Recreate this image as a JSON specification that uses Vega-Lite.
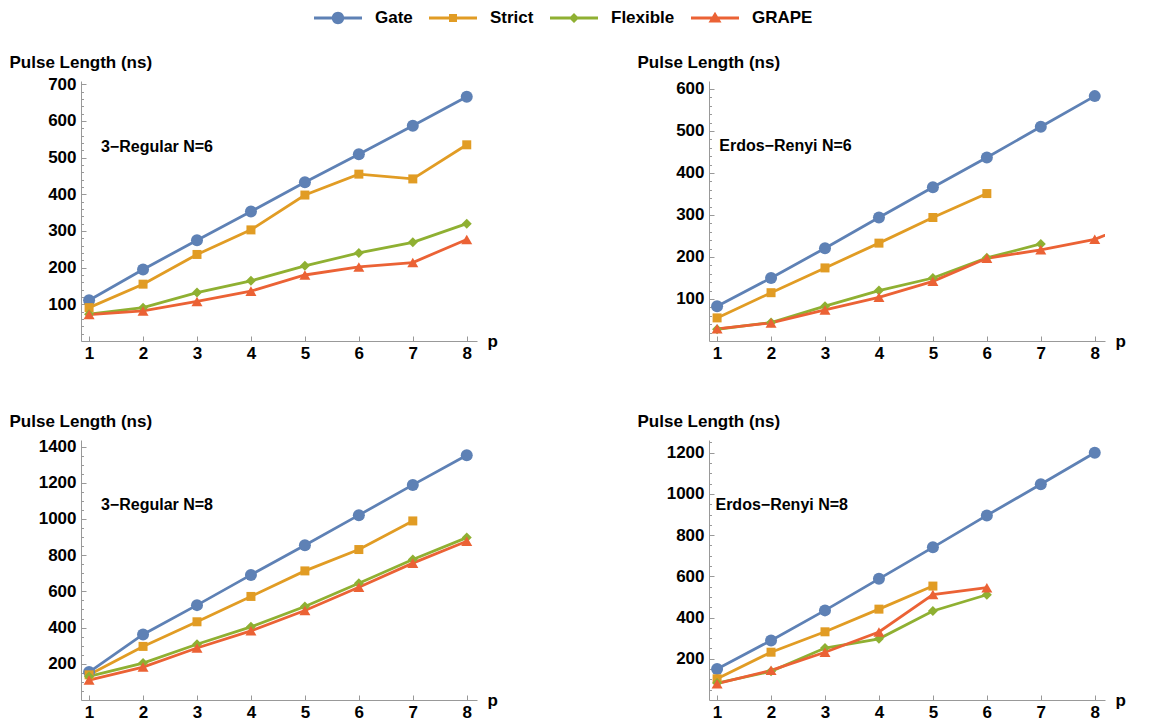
{
  "$schema": "https://vega.github.io/schema/vega-lite/v6.json",
  "padding": {"left": 9, "top": 8, "right": 5, "bottom": 3},
  "background": "white",
  "datasets": {
    "curves": [
      {"panel": "A", "series": "Gate", "p": 1, "value": 111},
      {"panel": "A", "series": "Gate", "p": 2, "value": 195},
      {"panel": "A", "series": "Gate", "p": 3, "value": 275},
      {"panel": "A", "series": "Gate", "p": 4, "value": 353},
      {"panel": "A", "series": "Gate", "p": 5, "value": 433},
      {"panel": "A", "series": "Gate", "p": 6, "value": 509},
      {"panel": "A", "series": "Gate", "p": 7, "value": 587},
      {"panel": "A", "series": "Gate", "p": 8, "value": 666},
      {"panel": "A", "series": "Strict", "p": 1, "value": 91},
      {"panel": "A", "series": "Strict", "p": 2, "value": 155},
      {"panel": "A", "series": "Strict", "p": 3, "value": 236},
      {"panel": "A", "series": "Strict", "p": 4, "value": 303},
      {"panel": "A", "series": "Strict", "p": 5, "value": 398},
      {"panel": "A", "series": "Strict", "p": 6, "value": 455},
      {"panel": "A", "series": "Strict", "p": 7, "value": 442},
      {"panel": "A", "series": "Strict", "p": 8, "value": 535},
      {"panel": "A", "series": "Flexible", "p": 1, "value": 73},
      {"panel": "A", "series": "Flexible", "p": 2, "value": 91},
      {"panel": "A", "series": "Flexible", "p": 3, "value": 132},
      {"panel": "A", "series": "Flexible", "p": 4, "value": 164},
      {"panel": "A", "series": "Flexible", "p": 5, "value": 205},
      {"panel": "A", "series": "Flexible", "p": 6, "value": 240},
      {"panel": "A", "series": "Flexible", "p": 7, "value": 269},
      {"panel": "A", "series": "Flexible", "p": 8, "value": 320},
      {"panel": "A", "series": "GRAPE", "p": 1, "value": 72},
      {"panel": "A", "series": "GRAPE", "p": 2, "value": 82},
      {"panel": "A", "series": "GRAPE", "p": 3, "value": 108},
      {"panel": "A", "series": "GRAPE", "p": 4, "value": 136},
      {"panel": "A", "series": "GRAPE", "p": 5, "value": 180},
      {"panel": "A", "series": "GRAPE", "p": 6, "value": 202},
      {"panel": "A", "series": "GRAPE", "p": 7, "value": 214},
      {"panel": "A", "series": "GRAPE", "p": 8, "value": 277},

      {"panel": "B", "series": "Gate", "p": 1, "value": 83},
      {"panel": "B", "series": "Gate", "p": 2, "value": 150},
      {"panel": "B", "series": "Gate", "p": 3, "value": 221},
      {"panel": "B", "series": "Gate", "p": 4, "value": 294},
      {"panel": "B", "series": "Gate", "p": 5, "value": 366},
      {"panel": "B", "series": "Gate", "p": 6, "value": 437},
      {"panel": "B", "series": "Gate", "p": 7, "value": 510},
      {"panel": "B", "series": "Gate", "p": 8, "value": 583},
      {"panel": "B", "series": "Strict", "p": 1, "value": 55},
      {"panel": "B", "series": "Strict", "p": 2, "value": 115},
      {"panel": "B", "series": "Strict", "p": 3, "value": 174},
      {"panel": "B", "series": "Strict", "p": 4, "value": 233},
      {"panel": "B", "series": "Strict", "p": 5, "value": 294},
      {"panel": "B", "series": "Strict", "p": 6, "value": 351},
      {"panel": "B", "series": "Flexible", "p": 1, "value": 28},
      {"panel": "B", "series": "Flexible", "p": 2, "value": 44},
      {"panel": "B", "series": "Flexible", "p": 3, "value": 83},
      {"panel": "B", "series": "Flexible", "p": 4, "value": 120},
      {"panel": "B", "series": "Flexible", "p": 5, "value": 150},
      {"panel": "B", "series": "Flexible", "p": 6, "value": 198},
      {"panel": "B", "series": "Flexible", "p": 7, "value": 231},
      {"panel": "B", "series": "GRAPE", "p": 1, "value": 29},
      {"panel": "B", "series": "GRAPE", "p": 2, "value": 43},
      {"panel": "B", "series": "GRAPE", "p": 3, "value": 74},
      {"panel": "B", "series": "GRAPE", "p": 4, "value": 104},
      {"panel": "B", "series": "GRAPE", "p": 5, "value": 142},
      {"panel": "B", "series": "GRAPE", "p": 6, "value": 197},
      {"panel": "B", "series": "GRAPE", "p": 7, "value": 217},
      {"panel": "B", "series": "GRAPE", "p": 8, "value": 242},
      {"panel": "B", "series": "GRAPE", "p": 9, "value": 292},

      {"panel": "C", "series": "Gate", "p": 1, "value": 154},
      {"panel": "C", "series": "Gate", "p": 2, "value": 362},
      {"panel": "C", "series": "Gate", "p": 3, "value": 524},
      {"panel": "C", "series": "Gate", "p": 4, "value": 691},
      {"panel": "C", "series": "Gate", "p": 5, "value": 855},
      {"panel": "C", "series": "Gate", "p": 6, "value": 1021},
      {"panel": "C", "series": "Gate", "p": 7, "value": 1188},
      {"panel": "C", "series": "Gate", "p": 8, "value": 1352},
      {"panel": "C", "series": "Strict", "p": 1, "value": 139},
      {"panel": "C", "series": "Strict", "p": 2, "value": 296},
      {"panel": "C", "series": "Strict", "p": 3, "value": 432},
      {"panel": "C", "series": "Strict", "p": 4, "value": 572},
      {"panel": "C", "series": "Strict", "p": 5, "value": 713},
      {"panel": "C", "series": "Strict", "p": 6, "value": 831},
      {"panel": "C", "series": "Strict", "p": 7, "value": 989},
      {"panel": "C", "series": "Flexible", "p": 1, "value": 130},
      {"panel": "C", "series": "Flexible", "p": 2, "value": 204},
      {"panel": "C", "series": "Flexible", "p": 3, "value": 308},
      {"panel": "C", "series": "Flexible", "p": 4, "value": 404},
      {"panel": "C", "series": "Flexible", "p": 5, "value": 516},
      {"panel": "C", "series": "Flexible", "p": 6, "value": 645},
      {"panel": "C", "series": "Flexible", "p": 7, "value": 776},
      {"panel": "C", "series": "Flexible", "p": 8, "value": 897},
      {"panel": "C", "series": "GRAPE", "p": 1, "value": 110},
      {"panel": "C", "series": "GRAPE", "p": 2, "value": 182},
      {"panel": "C", "series": "GRAPE", "p": 3, "value": 287},
      {"panel": "C", "series": "GRAPE", "p": 4, "value": 382},
      {"panel": "C", "series": "GRAPE", "p": 5, "value": 494},
      {"panel": "C", "series": "GRAPE", "p": 6, "value": 623},
      {"panel": "C", "series": "GRAPE", "p": 7, "value": 756},
      {"panel": "C", "series": "GRAPE", "p": 8, "value": 877},

      {"panel": "D", "series": "Gate", "p": 1, "value": 151},
      {"panel": "D", "series": "Gate", "p": 2, "value": 289},
      {"panel": "D", "series": "Gate", "p": 3, "value": 435},
      {"panel": "D", "series": "Gate", "p": 4, "value": 588},
      {"panel": "D", "series": "Gate", "p": 5, "value": 741},
      {"panel": "D", "series": "Gate", "p": 6, "value": 896},
      {"panel": "D", "series": "Gate", "p": 7, "value": 1047},
      {"panel": "D", "series": "Gate", "p": 8, "value": 1200},
      {"panel": "D", "series": "Strict", "p": 1, "value": 103},
      {"panel": "D", "series": "Strict", "p": 2, "value": 232},
      {"panel": "D", "series": "Strict", "p": 3, "value": 331},
      {"panel": "D", "series": "Strict", "p": 4, "value": 441},
      {"panel": "D", "series": "Strict", "p": 5, "value": 553},
      {"panel": "D", "series": "Flexible", "p": 1, "value": 82},
      {"panel": "D", "series": "Flexible", "p": 2, "value": 139},
      {"panel": "D", "series": "Flexible", "p": 3, "value": 252},
      {"panel": "D", "series": "Flexible", "p": 4, "value": 297},
      {"panel": "D", "series": "Flexible", "p": 5, "value": 432},
      {"panel": "D", "series": "Flexible", "p": 6, "value": 511},
      {"panel": "D", "series": "GRAPE", "p": 1, "value": 79},
      {"panel": "D", "series": "GRAPE", "p": 2, "value": 144},
      {"panel": "D", "series": "GRAPE", "p": 3, "value": 232},
      {"panel": "D", "series": "GRAPE", "p": 4, "value": 330},
      {"panel": "D", "series": "GRAPE", "p": 5, "value": 512},
      {"panel": "D", "series": "GRAPE", "p": 6, "value": 545}
    ]
  },
  "config": {
    "view": {"stroke": null},
    "font": "Liberation Sans",
    "axis": {
      "grid": false,
      "domainColor": "#999999",
      "tickColor": "#999999",
      "labelColor": "#000000",
      "labelFont": "Liberation Sans",
      "labelFontWeight": "bold",
      "labelFontSize": 17,
      "titleFont": "Liberation Sans",
      "titleFontWeight": "bold",
      "titleColor": "#000000"
    }
  },
  "columns": 2,
  "spacing": {"row": 99, "column": 232},
  "bounds": "flush",
  "concat": [
    {
      "width": 396, "height": 260,
      "data": {"name": "curves"},
      "transform": [{"filter": "datum.panel === 'A'"}],
      "resolve": {"axis": {"y": "independent"}},
      "layer": [
        {
          "mark": {"type": "line", "strokeWidth": 2.8, "clip": true},
          "encoding": {
            "x": {"field": "p", "type": "quantitative", "scale": {"domain": [0.85, 8.19], "nice": false, "zero": false},
                  "axis": {"values": [1,2,3,4,5,6,7,8], "format": "d", "tickSize": -5, "labelPadding": 9, "title": "p", "titleAngle": 0, "titleAlign": "left", "titleBaseline": "alphabetic", "titleX": 406, "titleY": 5, "titleFontSize": 17}},
            "y": {"field": "value", "type": "quantitative", "scale": {"domain": [0, 709], "nice": false},
                  "axis": {"orient": "left", "values": [100,200,300,400,500,600,700], "format": "d", "tickSize": -5, "labelPadding": 10, "title": "Pulse Length (ns)", "titleAngle": 0, "titleAlign": "left", "titleBaseline": "alphabetic", "titleX": -72, "titleY": -14, "titleFontSize": 17}},
            "color": {"field": "series", "type": "nominal",
                      "scale": {"domain": ["Gate", "Strict", "Flexible", "GRAPE"], "range": ["#5E81B5", "#E19C24", "#8FB032", "#EB6235"]}}
          }
        },
        {
          "transform": [{"filter": "datum.series === 'Gate'"}],
          "mark": {"type": "point", "filled": true, "opacity": 1, "clip": true, "shape": "circle", "size": 144},
          "encoding": {"x": {"field": "p", "type": "quantitative"},
            "y": {"field": "value", "type": "quantitative",
                  "axis": {"orient": "left", "values": [20,40,60,80,100,120,140,160,180,200,220,240,260,280,300,320,340,360,380,400,420,440,460,480,500,520,540,560,580,600,620,640,660,680,700], "tickSize": -2.5, "labels": false, "domain": false, "title": null}},
            "color": {"field": "series", "type": "nominal"}}
        },
        {
          "transform": [{"filter": "datum.series === 'Strict'"}],
          "mark": {"type": "point", "filled": true, "opacity": 1, "clip": true, "shape": "square", "size": 81},
          "encoding": {"x": {"field": "p", "type": "quantitative"}, "y": {"field": "value", "type": "quantitative", "axis": null}, "color": {"field": "series", "type": "nominal"}}
        },
        {
          "transform": [{"filter": "datum.series === 'Flexible'"}],
          "mark": {"type": "point", "filled": true, "opacity": 1, "clip": true, "shape": "diamond", "size": 100},
          "encoding": {"x": {"field": "p", "type": "quantitative"}, "y": {"field": "value", "type": "quantitative", "axis": null}, "color": {"field": "series", "type": "nominal"}}
        },
        {
          "transform": [{"filter": "datum.series === 'GRAPE'"}],
          "mark": {"type": "point", "filled": true, "opacity": 1, "clip": true, "shape": "triangle-up", "size": 121},
          "encoding": {"x": {"field": "p", "type": "quantitative"}, "y": {"field": "value", "type": "quantitative", "axis": null}, "color": {"field": "series", "type": "nominal"}}
        },
        {
          "transform": [{"filter": "datum.p > 100"}],
          "mark": {"type": "point", "filled": true, "opacity": 1},
          "encoding": {"x": {"field": "p", "type": "quantitative"}, "y": {"field": "value", "type": "quantitative", "axis": null},
            "color": {"field": "series", "type": "nominal",
                      "legend": {"orient": "none", "legendX": 247, "legendY": -73, "direction": "horizontal", "title": null,
                                 "labelFontSize": 17, "labelFontWeight": "bold", "labelFont": "Liberation Sans", "labelColor": "#000000",
                                 "symbolSize": 400, "labelOffset": 27, "columnPadding": 16, "symbolStrokeWidth": 0}},
            "shape": {"field": "series", "type": "nominal",
                      "scale": {"domain": ["Gate", "Strict", "Flexible", "GRAPE"],
                                "range": ["M-2.4,-0.14H2.4V0.14H-2.4ZM0.62,0A0.62,0.62,0,1,1,-0.62,0A0.62,0.62,0,1,1,0.62,0Z",
                                          "M-2.4,-0.14H2.4V0.14H-2.4ZM-0.4,-0.4H0.4V0.4H-0.4Z",
                                          "M-2.4,-0.14H2.4V0.14H-2.4ZM0,-0.5L0.5,0L0,0.5L-0.5,0Z",
                                          "M-2.4,-0.14H2.4V0.14H-2.4ZM0,-0.62L0.65,0.45L-0.65,0.45Z"]},
                      "legend": {"orient": "none", "legendX": 247, "legendY": -73, "direction": "horizontal", "title": null,
                                 "labelFontSize": 17, "labelFontWeight": "bold", "labelFont": "Liberation Sans", "labelColor": "#000000",
                                 "symbolSize": 400, "labelOffset": 27, "columnPadding": 16, "symbolStrokeWidth": 0}}}
        },
        {
          "data": {"values": [{"label": "3−Regular N=6"}]},
          "mark": {"type": "text", "align": "left", "baseline": "middle", "fontSize": 16, "fontWeight": "bold", "font": "Liberation Sans", "color": "#000000"},
          "encoding": {"x": {"datum": 1.22}, "y": {"datum": 530, "axis": null}, "text": {"field": "label"}}
        }
      ]
    },
    {
      "width": 396, "height": 260,
      "data": {"name": "curves"},
      "transform": [{"filter": "datum.panel === 'B'"}],
      "resolve": {"axis": {"y": "independent"}},
      "layer": [
        {
          "mark": {"type": "line", "strokeWidth": 2.8, "clip": true},
          "encoding": {
            "x": {"field": "p", "type": "quantitative", "scale": {"domain": [0.85, 8.19], "nice": false, "zero": false},
                  "axis": {"values": [1,2,3,4,5,6,7,8], "format": "d", "tickSize": -5, "labelPadding": 9, "title": "p", "titleAngle": 0, "titleAlign": "left", "titleBaseline": "alphabetic", "titleX": 406, "titleY": 5, "titleFontSize": 17}},
            "y": {"field": "value", "type": "quantitative", "scale": {"domain": [0, 619], "nice": false},
                  "axis": {"orient": "left", "values": [100,200,300,400,500,600], "format": "d", "tickSize": -5, "labelPadding": 10, "title": "Pulse Length (ns)", "titleAngle": 0, "titleAlign": "left", "titleBaseline": "alphabetic", "titleX": -72, "titleY": -14, "titleFontSize": 17}},
            "color": {"field": "series", "type": "nominal"}
          }
        },
        {
          "transform": [{"filter": "datum.series === 'Gate'"}],
          "mark": {"type": "point", "filled": true, "opacity": 1, "clip": true, "shape": "circle", "size": 144},
          "encoding": {"x": {"field": "p", "type": "quantitative"},
            "y": {"field": "value", "type": "quantitative",
                  "axis": {"orient": "left", "values": [20,40,60,80,100,120,140,160,180,200,220,240,260,280,300,320,340,360,380,400,420,440,460,480,500,520,540,560,580,600], "tickSize": -2.5, "labels": false, "domain": false, "title": null}},
            "color": {"field": "series", "type": "nominal"}}
        },
        {
          "transform": [{"filter": "datum.series === 'Strict'"}],
          "mark": {"type": "point", "filled": true, "opacity": 1, "clip": true, "shape": "square", "size": 81},
          "encoding": {"x": {"field": "p", "type": "quantitative"}, "y": {"field": "value", "type": "quantitative", "axis": null}, "color": {"field": "series", "type": "nominal"}}
        },
        {
          "transform": [{"filter": "datum.series === 'Flexible'"}],
          "mark": {"type": "point", "filled": true, "opacity": 1, "clip": true, "shape": "diamond", "size": 100},
          "encoding": {"x": {"field": "p", "type": "quantitative"}, "y": {"field": "value", "type": "quantitative", "axis": null}, "color": {"field": "series", "type": "nominal"}}
        },
        {
          "transform": [{"filter": "datum.series === 'GRAPE'"}],
          "mark": {"type": "point", "filled": true, "opacity": 1, "clip": true, "shape": "triangle-up", "size": 121},
          "encoding": {"x": {"field": "p", "type": "quantitative"}, "y": {"field": "value", "type": "quantitative", "axis": null}, "color": {"field": "series", "type": "nominal"}}
        },
        {
          "data": {"values": [{"label": "Erdos−Renyi N=6"}]},
          "mark": {"type": "text", "align": "left", "baseline": "middle", "fontSize": 16, "fontWeight": "bold", "font": "Liberation Sans", "color": "#000000"},
          "encoding": {"x": {"datum": 1.04}, "y": {"datum": 464, "axis": null}, "text": {"field": "label"}}
        }
      ]
    },
    {
      "width": 396, "height": 260,
      "data": {"name": "curves"},
      "transform": [{"filter": "datum.panel === 'C'"}],
      "resolve": {"axis": {"y": "independent"}},
      "layer": [
        {
          "mark": {"type": "line", "strokeWidth": 2.8, "clip": true},
          "encoding": {
            "x": {"field": "p", "type": "quantitative", "scale": {"domain": [0.85, 8.19], "nice": false, "zero": false},
                  "axis": {"values": [1,2,3,4,5,6,7,8], "format": "d", "tickSize": -5, "labelPadding": 9, "title": "p", "titleAngle": 0, "titleAlign": "left", "titleBaseline": "alphabetic", "titleX": 406, "titleY": 5, "titleFontSize": 17}},
            "y": {"field": "value", "type": "quantitative", "scale": {"domain": [0, 1436], "nice": false},
                  "axis": {"orient": "left", "values": [200,400,600,800,1000,1200,1400], "format": "d", "tickSize": -5, "labelPadding": 10, "title": "Pulse Length (ns)", "titleAngle": 0, "titleAlign": "left", "titleBaseline": "alphabetic", "titleX": -72, "titleY": -14, "titleFontSize": 17}},
            "color": {"field": "series", "type": "nominal"}
          }
        },
        {
          "transform": [{"filter": "datum.series === 'Gate'"}],
          "mark": {"type": "point", "filled": true, "opacity": 1, "clip": true, "shape": "circle", "size": 144},
          "encoding": {"x": {"field": "p", "type": "quantitative"},
            "y": {"field": "value", "type": "quantitative",
                  "axis": {"orient": "left", "values": [50,100,150,200,250,300,350,400,450,500,550,600,650,700,750,800,850,900,950,1000,1050,1100,1150,1200,1250,1300,1350,1400], "tickSize": -2.5, "labels": false, "domain": false, "title": null}},
            "color": {"field": "series", "type": "nominal"}}
        },
        {
          "transform": [{"filter": "datum.series === 'Strict'"}],
          "mark": {"type": "point", "filled": true, "opacity": 1, "clip": true, "shape": "square", "size": 81},
          "encoding": {"x": {"field": "p", "type": "quantitative"}, "y": {"field": "value", "type": "quantitative", "axis": null}, "color": {"field": "series", "type": "nominal"}}
        },
        {
          "transform": [{"filter": "datum.series === 'Flexible'"}],
          "mark": {"type": "point", "filled": true, "opacity": 1, "clip": true, "shape": "diamond", "size": 100},
          "encoding": {"x": {"field": "p", "type": "quantitative"}, "y": {"field": "value", "type": "quantitative", "axis": null}, "color": {"field": "series", "type": "nominal"}}
        },
        {
          "transform": [{"filter": "datum.series === 'GRAPE'"}],
          "mark": {"type": "point", "filled": true, "opacity": 1, "clip": true, "shape": "triangle-up", "size": 121},
          "encoding": {"x": {"field": "p", "type": "quantitative"}, "y": {"field": "value", "type": "quantitative", "axis": null}, "color": {"field": "series", "type": "nominal"}}
        },
        {
          "data": {"values": [{"label": "3−Regular N=8"}]},
          "mark": {"type": "text", "align": "left", "baseline": "middle", "fontSize": 16, "fontWeight": "bold", "font": "Liberation Sans", "color": "#000000"},
          "encoding": {"x": {"datum": 1.22}, "y": {"datum": 1077, "axis": null}, "text": {"field": "label"}}
        }
      ]
    },
    {
      "width": 396, "height": 260,
      "data": {"name": "curves"},
      "transform": [{"filter": "datum.panel === 'D'"}],
      "resolve": {"axis": {"y": "independent"}},
      "layer": [
        {
          "mark": {"type": "line", "strokeWidth": 2.8, "clip": true},
          "encoding": {
            "x": {"field": "p", "type": "quantitative", "scale": {"domain": [0.85, 8.19], "nice": false, "zero": false},
                  "axis": {"values": [1,2,3,4,5,6,7,8], "format": "d", "tickSize": -5, "labelPadding": 9, "title": "p", "titleAngle": 0, "titleAlign": "left", "titleBaseline": "alphabetic", "titleX": 406, "titleY": 5, "titleFontSize": 17}},
            "y": {"field": "value", "type": "quantitative", "scale": {"domain": [0, 1262], "nice": false},
                  "axis": {"orient": "left", "values": [200,400,600,800,1000,1200], "format": "d", "tickSize": -5, "labelPadding": 10, "title": "Pulse Length (ns)", "titleAngle": 0, "titleAlign": "left", "titleBaseline": "alphabetic", "titleX": -72, "titleY": -14, "titleFontSize": 17}},
            "color": {"field": "series", "type": "nominal"}
          }
        },
        {
          "transform": [{"filter": "datum.series === 'Gate'"}],
          "mark": {"type": "point", "filled": true, "opacity": 1, "clip": true, "shape": "circle", "size": 144},
          "encoding": {"x": {"field": "p", "type": "quantitative"},
            "y": {"field": "value", "type": "quantitative",
                  "axis": {"orient": "left", "values": [50,100,150,200,250,300,350,400,450,500,550,600,650,700,750,800,850,900,950,1000,1050,1100,1150,1200,1250], "tickSize": -2.5, "labels": false, "domain": false, "title": null}},
            "color": {"field": "series", "type": "nominal"}}
        },
        {
          "transform": [{"filter": "datum.series === 'Strict'"}],
          "mark": {"type": "point", "filled": true, "opacity": 1, "clip": true, "shape": "square", "size": 81},
          "encoding": {"x": {"field": "p", "type": "quantitative"}, "y": {"field": "value", "type": "quantitative", "axis": null}, "color": {"field": "series", "type": "nominal"}}
        },
        {
          "transform": [{"filter": "datum.series === 'Flexible'"}],
          "mark": {"type": "point", "filled": true, "opacity": 1, "clip": true, "shape": "diamond", "size": 100},
          "encoding": {"x": {"field": "p", "type": "quantitative"}, "y": {"field": "value", "type": "quantitative", "axis": null}, "color": {"field": "series", "type": "nominal"}}
        },
        {
          "transform": [{"filter": "datum.series === 'GRAPE'"}],
          "mark": {"type": "point", "filled": true, "opacity": 1, "clip": true, "shape": "triangle-up", "size": 121},
          "encoding": {"x": {"field": "p", "type": "quantitative"}, "y": {"field": "value", "type": "quantitative", "axis": null}, "color": {"field": "series", "type": "nominal"}}
        },
        {
          "data": {"values": [{"label": "Erdos−Renyi N=8"}]},
          "mark": {"type": "text", "align": "left", "baseline": "middle", "fontSize": 16, "fontWeight": "bold", "font": "Liberation Sans", "color": "#000000"},
          "encoding": {"x": {"datum": 0.97}, "y": {"datum": 947, "axis": null}, "text": {"field": "label"}}
        }
      ]
    }
  ]
}
